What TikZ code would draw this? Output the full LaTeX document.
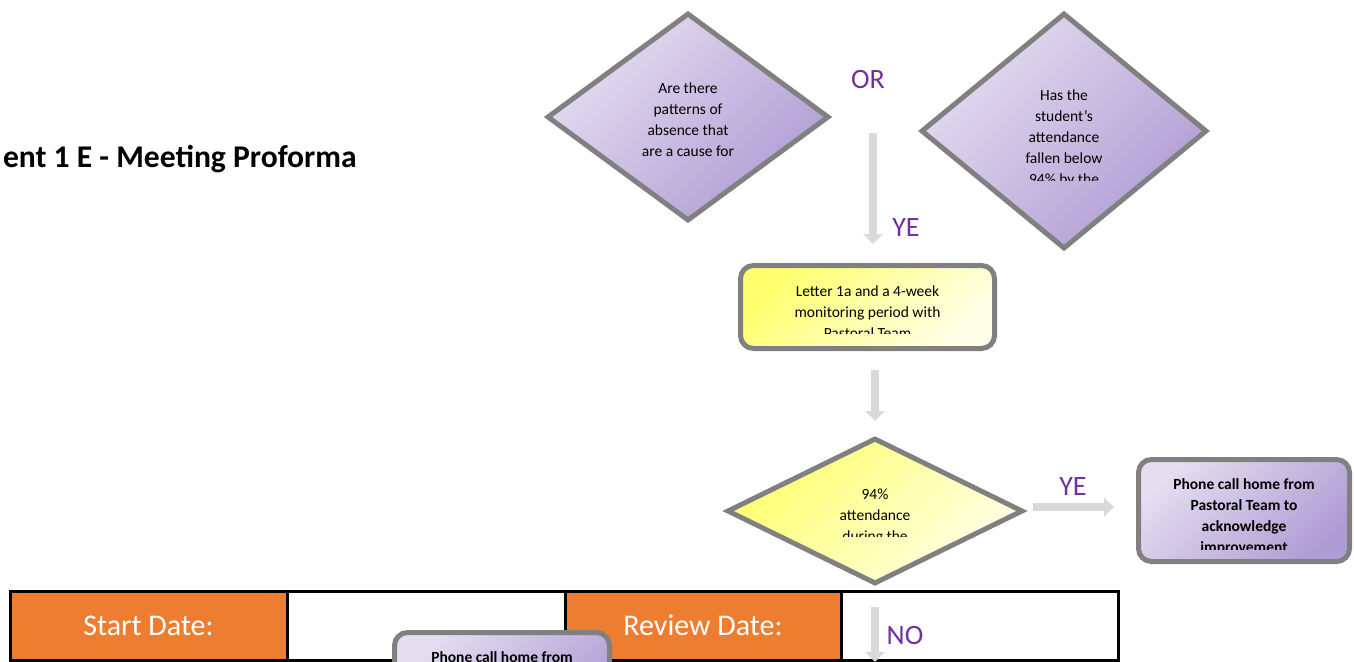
\documentclass[tikz,border=0pt]{standalone}
\usepackage{fontspec}
\setmainfont{Carlito}
\usetikzlibrary{shapes.geometric,arrows.meta}
\definecolor{bordergray}{RGB}{128,128,128}
\definecolor{lavL}{RGB}{228,222,240}
\definecolor{lavD}{RGB}{176,156,212}
\definecolor{yelL}{RGB}{255,255,110}
\definecolor{yelR}{RGB}{255,255,232}
\definecolor{arrowgray}{RGB}{217,217,217}
\definecolor{labpurple}{RGB}{112,48,160}
\definecolor{cellorange}{RGB}{237,125,49}
\tikzset{
  purpfill/.style={left color=lavL, right color=lavD, shading angle=45},
  yelfill/.style={left color=yelL, right color=yelR, shading angle=45},
  decision/.style={diamond, draw=bordergray, line width=5, inner sep=0, miter limit=10},
  roundbox/.style={rectangle, rounded corners=13, draw=bordergray, line width=5, inner sep=0},
  bodytext/.style={inner sep=0, anchor=north, align=center, font=\fontsize{15.5}{21}\selectfont},
  boldtext/.style={bodytext, font=\fontsize{15.5}{21}\selectfont\bfseries},
  flowlabel/.style={text=labpurple, inner sep=0, font=\fontsize{28}{30}\selectfont},
  blockarrow/.style={draw=arrowgray, line width=8, -{Triangle[width=19,length=10]}},
  tablecell/.style={rectangle, draw=black, line width=3, minimum height=69, inner sep=0,
    font=\fontsize{30}{32}\selectfont},
  orangecell/.style={tablecell, fill=cellorange, text=white},
  whitecell/.style={tablecell, fill=white}
}
\begin{document}
\begin{tikzpicture}[x=1pt,y=-1pt]
\path[use as bounding box] (0,0) rectangle (1354,661);
\clip (0,0) rectangle (1354,661);

% title
\node[inner sep=0, anchor=base east, font=\fontsize{31.6}{34}\selectfont\bfseries] (title) at (357,167) {ent 1 E - Meeting Proforma};

% decision 1
\node[decision, purpfill, minimum width=282, minimum height=208] (d1) at (688,117) {};
\begin{scope}
\clip (560,60) rectangle (820,161);
\node[bodytext] (d1t) at (688,83) {Are there\\patterns of\\absence that\\are a cause for};
\end{scope}

\node[flowlabel] (or) at (868,80) {OR};

% decision 2
\node[decision, purpfill, minimum width=286, minimum height=236] (d2) at (1064,131) {};
\begin{scope}
\clip (940,70) rectangle (1190,180);
\node[bodytext] (d2t) at (1064,90) {Has the\\student’s\\attendance\\fallen below\\94\% by the};
\end{scope}

% arrow 1
\coordinate (a1s) at (873,133);
\coordinate (a1e) at (873,244);
\draw[blockarrow] (a1s) -- (a1e);
\node[flowlabel] (ye1) at (906,228) {YE};

% yellow box
\node[roundbox, yelfill, minimum width=254, minimum height=83] (yb) at (867.5,307) {};
\begin{scope}
\clip (745,270) rectangle (990,333);
\node[bodytext] (ybt) at (867.5,286) {Letter 1a and a 4-week\\monitoring period with\\Pastoral Team};
\end{scope}

% arrow 2
\coordinate (a2s) at (875,370);
\coordinate (a2e) at (875,421);
\draw[blockarrow] (a2s) -- (a2e);

% decision 3
\node[decision, yelfill, minimum width=296, minimum height=146] (d3) at (875,511) {};
\begin{scope}
\clip (760,470) rectangle (990,536.5);
\node[bodytext] (d3t) at (875,489) {94\%\\attendance\\during the};
\end{scope}

% arrow 3
\coordinate (a3s) at (1033,507);
\coordinate (a3e) at (1114,507);
\draw[blockarrow] (a3s) -- (a3e);
\node[flowlabel] (ye2) at (1073,487) {YE};

% right box
\node[roundbox, purpfill, minimum width=211, minimum height=102] (rb) at (1244,510.5) {};
\begin{scope}
\clip (1140,460) rectangle (1350,549);
\node[boldtext] (rbt) at (1244,478) {Phone call home from\\Pastoral Team to\\acknowledge\\improvement};
\end{scope}

% table
\node[orangecell, minimum width=277] (c1) at (148.5,625.5) {Start Date:};
\node[whitecell, minimum width=278] (c2) at (426,625.5) {};
\node[orangecell, minimum width=276] (c3) at (703,625.5) {Review Date:};
\node[whitecell, minimum width=277] (c4) at (979.5,625.5) {};

% arrow 4
\coordinate (a4s) at (875,607);
\coordinate (a4e) at (875,662);
\draw[blockarrow] (a4s) -- (a4e);
\node[flowlabel] (no) at (905,636) {NO};

% bottom box
\node[roundbox, purpfill, minimum width=215, minimum height=102] (bb) at (502,683.5) {};
\node[boldtext] (bbt) at (502,651) {Phone call home from};
\end{tikzpicture}
\end{document}
